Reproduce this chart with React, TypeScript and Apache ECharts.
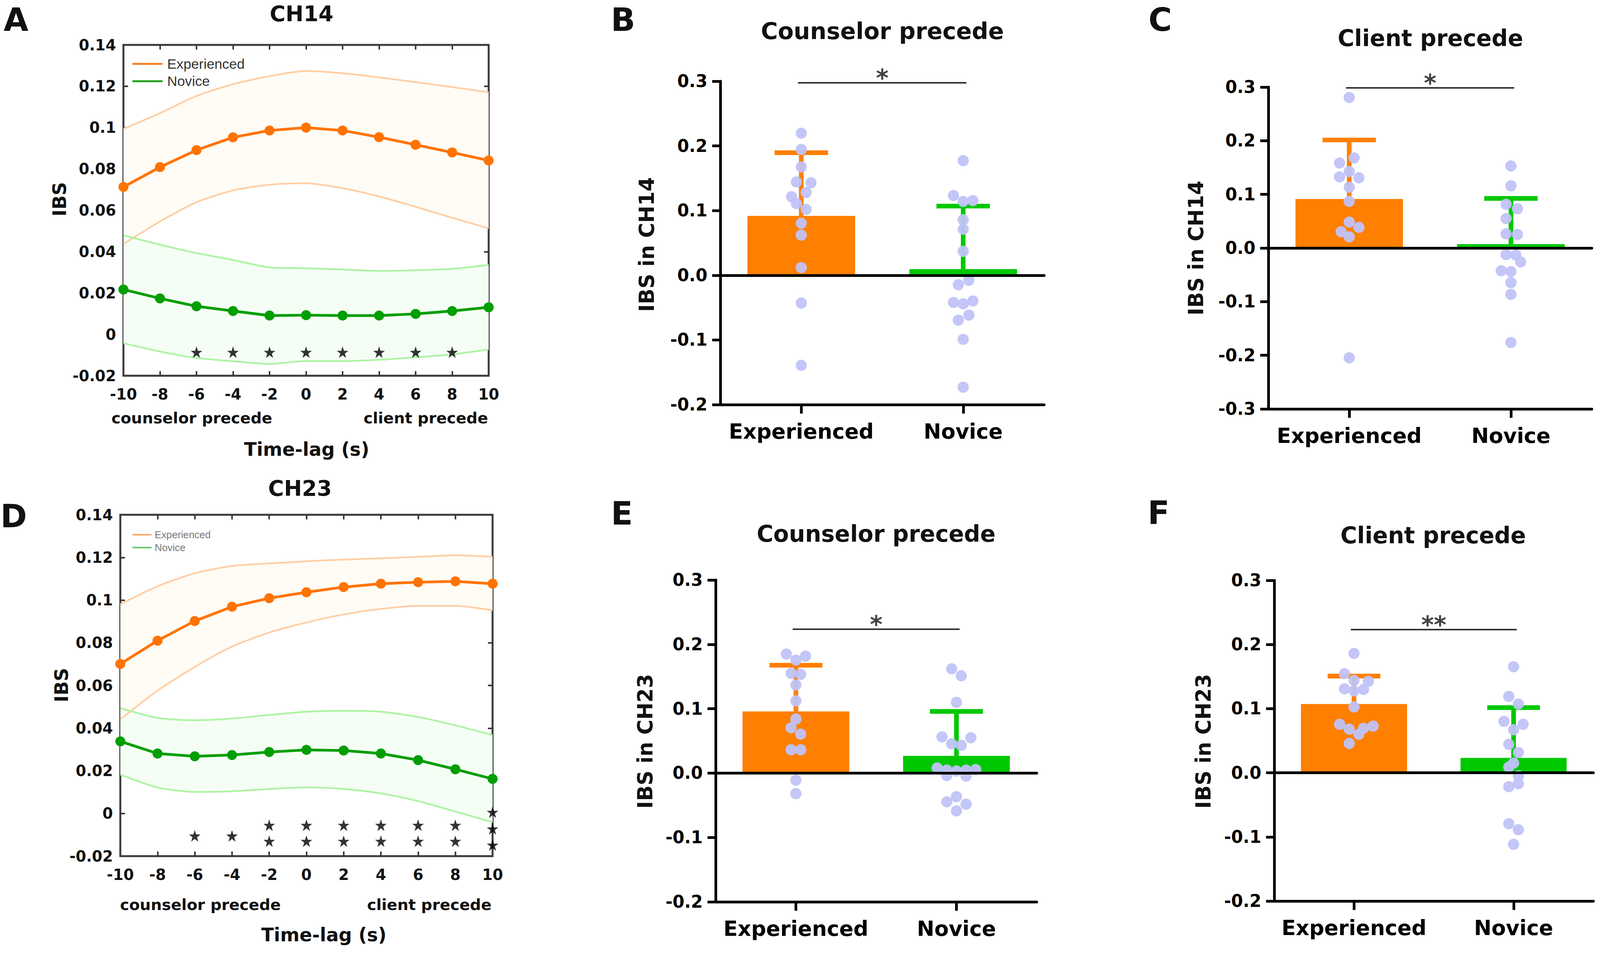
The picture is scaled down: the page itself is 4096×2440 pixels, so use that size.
import React, { useEffect, useRef } from 'react';
import * as echarts from 'echarts';

const S = 0.991;
const FONT = '"DejaVu Sans", sans-serif';

// ---------- Line panels (A: CH14, D: CH23) ----------
const LAGS = [-10, -8, -6, -4, -2, 0, 2, 4, 6, 8, 10];

const A_EXP_MEAN = [0.0713, 0.0809, 0.0891, 0.0953, 0.0986, 0.1, 0.0986, 0.0954, 0.0917, 0.088, 0.0841];
const A_EXP_HI = [0.0994, 0.107, 0.1153, 0.121, 0.1249, 0.1274, 0.1263, 0.1243, 0.122, 0.1196, 0.1171];
const A_EXP_LO = [0.0437, 0.0546, 0.0639, 0.0696, 0.0724, 0.0731, 0.0707, 0.0667, 0.0617, 0.0564, 0.0513];
const A_NOV_MEAN = [0.0217, 0.0174, 0.0136, 0.0113, 0.0091, 0.0093, 0.0091, 0.0091, 0.0099, 0.0113, 0.0131];
const A_NOV_HI = [0.0479, 0.0434, 0.0393, 0.036, 0.0324, 0.032, 0.0314, 0.0307, 0.031, 0.0317, 0.0336];
const A_NOV_LO = [-0.0043, -0.0083, -0.0114, -0.013, -0.0143, -0.0129, -0.0129, -0.0123, -0.0111, -0.0097, -0.0073];
const A_STARS = [[-6, -0.0086], [-4, -0.0086], [-2, -0.0086], [0, -0.0086], [2, -0.0086], [4, -0.0086], [6, -0.0086], [8, -0.0086]];

const D_EXP_MEAN = [0.0701, 0.081, 0.0902, 0.0969, 0.1009, 0.1037, 0.1061, 0.1077, 0.1084, 0.1088, 0.1077];
const D_EXP_HI = [0.098, 0.1065, 0.1126, 0.116, 0.1172, 0.1182, 0.119, 0.1196, 0.1203, 0.121, 0.1203];
const D_EXP_LO = [0.0441, 0.0576, 0.0687, 0.0782, 0.0848, 0.0895, 0.0933, 0.0959, 0.0973, 0.0973, 0.0952];
const D_NOV_MEAN = [0.0338, 0.0281, 0.0268, 0.0274, 0.0288, 0.0298, 0.0295, 0.0281, 0.025, 0.0207, 0.0162];
const D_NOV_HI = [0.0494, 0.0448, 0.0437, 0.0445, 0.0462, 0.0477, 0.0481, 0.0477, 0.0452, 0.0413, 0.0367];
const D_NOV_LO = [0.0182, 0.0122, 0.0101, 0.0104, 0.0115, 0.0122, 0.0115, 0.0094, 0.0058, 0.0009, -0.0041];
const D_STARS = [
  [-6, -0.0105], [-4, -0.0105],
  [-2, -0.0055], [-2, -0.013], [0, -0.0055], [0, -0.013], [2, -0.0055], [2, -0.013],
  [4, -0.0055], [4, -0.013], [6, -0.0055], [6, -0.013], [8, -0.0055], [8, -0.013],
  [10, 0.0006], [10, -0.0072], [10, -0.0148],
];

// ---------- Bar panels ----------
const GROUPS = ['Experienced', 'Novice'];

const B_MEANS = [0.0918, 0.0096];
const B_ERR_TOP = [0.1895, 0.107];
const B_EXP = [0.2196, 0.1945, 0.1676, 0.1443, 0.143, 0.128, 0.1215, 0.111, 0.102, 0.0804, 0.0621, 0.0119, -0.0429, -0.1393];
const B_EXP_JIT = [0, 0, 0, -0.03, 0.06, 0.03, -0.06, -0.03, 0.03, 0, 0, 0, 0, 0];
const B_NOV = [0.1772, 0.1233, 0.1142, 0.1155, 0.0858, 0.0712, 0.037, -0.0078, -0.0146, -0.042, -0.0443, -0.0397, -0.0616, -0.0694, -0.0991, -0.173];
const B_NOV_JIT = [0, -0.06, 0, 0.06, 0, 0, 0, 0.035, -0.03, -0.06, 0, 0.06, 0.035, -0.03, 0, 0];

const C_MEANS = [0.0914, 0.0072];
const C_ERR_TOP = [0.2014, 0.0925];
const C_EXP = [0.2807, 0.1679, 0.1585, 0.1425, 0.1326, 0.131, 0.1134, 0.0869, 0.0484, 0.0385, 0.0303, 0.0209, -0.2047];
const C_EXP_JIT = [0, 0.03, -0.06, 0, -0.06, 0.06, 0, 0, 0, 0.06, -0.05, 0, 0];
const C_NOV = [0.153, 0.116, 0.0815, 0.0732, 0.055, 0.0264, 0.0253, -0.0121, -0.0132, -0.0259, -0.0424, -0.044, -0.0644, -0.0864, -0.1761];
const C_NOV_JIT = [0, 0, -0.03, 0.04, -0.03, -0.03, 0.04, -0.03, 0.03, 0.06, -0.06, 0, 0, 0, 0];

const E_MEANS = [0.0958, 0.0268];
const E_ERR_TOP = [0.1676, 0.0958];
const E_EXP = [0.185, 0.1817, 0.1756, 0.155, 0.1535, 0.137, 0.1122, 0.084, 0.0704, 0.0606, 0.0362, 0.0362, -0.0108, -0.0319];
const E_EXP_JIT = [-0.06, 0.06, 0, -0.03, 0.03, 0, 0, 0, -0.03, 0.03, -0.03, 0.03, 0, 0];
const E_NOV = [0.162, 0.1512, 0.1099, 0.0563, 0.0549, 0.0455, 0.0432, 0.008, 0.0047, 0.0033, 0.0047, 0.0056, -0.0038, -0.0047, -0.0366, -0.0446, -0.0484, -0.0587];
const E_NOV_JIT = [-0.03, 0.03, 0, -0.09, 0.09, -0.03, 0.03, -0.12, -0.06, 0, 0.06, 0.12, -0.06, 0.06, 0, -0.06, 0.06, 0];

const F_MEANS = [0.1073, 0.0232];
const F_ERR_TOP = [0.1508, 0.1016];
const F_EXP = [0.1862, 0.1545, 0.144, 0.1427, 0.131, 0.13, 0.1276, 0.1026, 0.0756, 0.0728, 0.068, 0.0695, 0.06, 0.0458];
const F_EXP_JIT = [0, -0.06, 0, 0.09, -0.06, 0.06, 0, 0, -0.09, 0.12, -0.03, 0.06, 0.03, -0.03];
const F_NOV = [0.1654, 0.1191, 0.1073, 0.0803, 0.0756, 0.0671, 0.0444, 0.0317, 0.0151, 0.009, -0.0047, -0.017, -0.0217, -0.0794, -0.0888, -0.1115];
const F_NOV_JIT = [0, -0.03, 0.03, -0.06, 0.06, 0, -0.03, 0.03, 0, -0.03, 0.03, 0.03, -0.03, -0.03, 0.03, 0];

const STAR_PATH =
  'path://M50,0 L61.8,35.1 L98.9,35.1 L69,56.9 L80.3,91.9 L50,70.2 L19.7,91.9 L31,56.9 L1.1,35.1 L38.2,35.1 Z';

const ORANGE_LINE = '#ff7300';
const GREEN_LINE = '#009e00';
const ORANGE_CI = '#ffcfa6';
const GREEN_CI = '#aef3a4';
const ORANGE_FILL = '#fffcf5';
const GREEN_FILL = '#f5fef5';
const BAR_COLORS = ['#ff7f00', '#00c800'];
const DOT_COLOR = '#c0c3f7';

function buildOption() {
  const grids: any[] = [];
  const xAxes: any[] = [];
  const yAxes: any[] = [];
  const series: any[] = [];
  const graphics: any[] = [];

  const tickStyle = { color: '#3a3a3a', width: 4 * S };
  const tickLabel = (size: number, margin: number) => ({
    show: true, margin, fontSize: size, fontWeight: 'bold', fontFamily: FONT, color: '#111',
  });

  function linePanel(rect: any, expMean: number[], expLo: number[], expHi: number[],
    novMean: number[], novLo: number[], novHi: number[], stars: number[][]) {
    const g = grids.length;
    grids.push({ ...rect, show: true, borderColor: '#3a3a3a', borderWidth: 5 * S, backgroundColor: 'transparent' });
    const xi = xAxes.length;
    xAxes.push({
      gridIndex: g, type: 'value', min: -10, max: 10, interval: 2, position: 'bottom',
      axisLine: { show: false, onZero: false },
      axisTick: { show: true, inside: true, length: 12 * S, lineStyle: tickStyle },
      axisLabel: tickLabel(38.6, 28), splitLine: { show: false },
    });
    xAxes.push({
      gridIndex: g, type: 'value', min: -10, max: 10, interval: 2, position: 'top',
      axisLine: { show: false, onZero: false },
      axisTick: { show: true, inside: true, length: 12 * S, lineStyle: tickStyle },
      axisLabel: { show: false }, splitLine: { show: false },
    });
    const yi = yAxes.length;
    yAxes.push({
      gridIndex: g, type: 'value', min: -0.02, max: 0.14, interval: 0.02, position: 'left',
      axisLine: { show: false, onZero: false },
      axisTick: { show: true, inside: true, length: 12 * S, lineStyle: tickStyle },
      axisLabel: tickLabel(38.6, 19), splitLine: { show: false },
    });
    yAxes.push({
      gridIndex: g, type: 'value', min: -0.02, max: 0.14, interval: 0.02, position: 'right',
      axisLine: { show: false, onZero: false },
      axisTick: { show: true, inside: true, length: 12 * S, lineStyle: tickStyle },
      axisLabel: { show: false }, splitLine: { show: false },
    });

    const band = (lo: number[], hi: number[], fill: string) => ({
      type: 'custom', xAxisIndex: xi, yAxisIndex: yi, silent: true, z: 1,
      data: LAGS.map((x, i) => [x, lo[i], hi[i]]),
      encode: { x: 0, y: [1, 2] },
      renderItem: (params: any, api: any) => {
        if (params.dataIndex !== 0) return null;
        const top = LAGS.map((x, i) => api.coord([x, hi[i]]));
        const bot = LAGS.map((x, i) => api.coord([x, lo[i]])).reverse();
        return { type: 'polygon', shape: { points: top.concat(bot) }, style: { fill, stroke: 'none' } };
      },
    });
    series.push(band(expLo, expHi, ORANGE_FILL));
    series.push(band(novLo, novHi, GREEN_FILL));

    const ciLine = (vals: number[], color: string) => ({
      type: 'line', xAxisIndex: xi, yAxisIndex: yi, silent: true, z: 2, smooth: 0.25,
      symbol: 'none', data: LAGS.map((x, i) => [x, vals[i]]),
      lineStyle: { color, width: 4.5 * S },
    });
    series.push(ciLine(expLo, ORANGE_CI), ciLine(expHi, ORANGE_CI), ciLine(novLo, GREEN_CI), ciLine(novHi, GREEN_CI));

    const meanLine = (vals: number[], color: string) => ({
      type: 'line', xAxisIndex: xi, yAxisIndex: yi, silent: true, z: 3, clip: false,
      symbol: 'circle', symbolSize: 26 * S, data: LAGS.map((x, i) => [x, vals[i]]),
      lineStyle: { color, width: 7 * S }, itemStyle: { color },
    });
    series.push(meanLine(expMean, ORANGE_LINE), meanLine(novMean, GREEN_LINE));

    series.push({
      type: 'scatter', xAxisIndex: xi, yAxisIndex: yi, silent: true, z: 4, clip: false,
      symbol: STAR_PATH, symbolSize: 30 * S, data: stars, itemStyle: { color: '#000' },
    });
  }

  function barPanel(rect: any, yMin: number, means: number[], errTop: number[],
    exp: number[], expJit: number[], nov: number[], novJit: number[], sigY: number, sigText: string) {
    const g = grids.length;
    grids.push({ ...rect, show: false });
    const xc = xAxes.length;
    xAxes.push({
      gridIndex: g, type: 'category', data: GROUPS, position: 'bottom', z: 5,
      axisLine: { show: true, onZero: false, lineStyle: { color: '#000', width: 7 * S } },
      axisTick: { show: true, alignWithLabel: true, interval: 0, length: 23 * S, lineStyle: { color: '#000', width: 7 * S } },
      axisLabel: { ...tickLabel(53.5, 41), interval: 0, color: '#000' },
      splitLine: { show: false },
    });
    const xv = xAxes.length;
    xAxes.push({
      gridIndex: g, type: 'value', min: -0.5, max: 1.5, position: 'bottom', z: 5,
      axisLine: { show: true, onZero: true, lineStyle: { color: '#000', width: 7 * S } },
      axisTick: { show: false }, axisLabel: { show: false }, splitLine: { show: false },
    });
    const yi = yAxes.length;
    yAxes.push({
      gridIndex: g, type: 'value', min: yMin, max: 0.3, interval: 0.1, position: 'left', z: 5,
      axisLine: { show: true, onZero: false, lineStyle: { color: '#000', width: 7 * S } },
      axisTick: { show: true, length: 21 * S, lineStyle: { color: '#000', width: 7 * S } },
      axisLabel: {
        ...tickLabel(43.6, 33), color: '#000',
        formatter: (v: number) => (Math.abs(v) < 1e-9 ? '0.0' : v.toFixed(1)),
      },
      splitLine: { show: false },
    });

    series.push({
      type: 'bar', xAxisIndex: xc, yAxisIndex: yi, silent: true, z: 2, barWidth: '66.5%',
      data: means.map((v, i) => ({ value: v, itemStyle: { color: BAR_COLORS[i] } })),
    });
    series.push({
      type: 'custom', xAxisIndex: xv, yAxisIndex: yi, silent: true, z: 3,
      data: means.map((m, i) => [i, m, errTop[i]]),
      encode: { x: 0, y: [1, 2] },
      renderItem: (params: any, api: any) => {
        const x = api.value(0);
        const base = api.coord([x, api.value(1)]);
        const top = api.coord([x, api.value(2)]);
        const half = api.size([0.165, 0])[0];
        const color = BAR_COLORS[params.dataIndex];
        const lw = 12 * S;
        return {
          type: 'group',
          children: [
            { type: 'line', shape: { x1: base[0], y1: base[1], x2: top[0], y2: top[1] }, style: { stroke: color, lineWidth: lw } },
            { type: 'line', shape: { x1: top[0] - half, y1: top[1], x2: top[0] + half, y2: top[1] }, style: { stroke: color, lineWidth: lw } },
          ],
        };
      },
    });
    const dots = exp.map((v, i) => [0 + expJit[i], v]).concat(nov.map((v, i) => [1 + novJit[i], v]));
    series.push({
      type: 'scatter', xAxisIndex: xv, yAxisIndex: yi, silent: true, z: 4,
      symbol: 'circle', symbolSize: 29 * S, data: dots, itemStyle: { color: DOT_COLOR, opacity: 0.95 },
    });
    series.push({
      type: 'line', xAxisIndex: xv, yAxisIndex: yi, silent: true, z: 4, symbol: 'none',
      data: [[-0.02, sigY], [1.02, sigY]], lineStyle: { color: '#333', width: 4 * S },
    });
    series.push({
      type: 'scatter', xAxisIndex: xv, yAxisIndex: yi, silent: true, z: 6, symbolSize: 0,
      data: [[0.5, sigY]], itemStyle: { color: 'transparent' },
      label: {
        show: true, position: 'inside', offset: [0, -12], formatter: sigText,
        fontSize: 62 * S, fontWeight: 'bold', fontFamily: FONT, color: '#111',
      },
    });
  }

  linePanel({ left: 316, top: 115, width: 935, height: 847 }, A_EXP_MEAN, A_EXP_LO, A_EXP_HI, A_NOV_MEAN, A_NOV_LO, A_NOV_HI, A_STARS);
  linePanel({ left: 308, top: 1318, width: 953, height: 874 }, D_EXP_MEAN, D_EXP_LO, D_EXP_HI, D_NOV_MEAN, D_NOV_LO, D_NOV_HI, D_STARS);
  barPanel({ left: 1844, top: 208, width: 829, height: 828 }, -0.2, B_MEANS, B_ERR_TOP, B_EXP, B_EXP_JIT, B_NOV, B_NOV_JIT, 0.2976, '*');
  barPanel({ left: 3247, top: 223, width: 828, height: 824 }, -0.3, C_MEANS, C_ERR_TOP, C_EXP, C_EXP_JIT, C_NOV, C_NOV_JIT, 0.2986, '*');
  barPanel({ left: 1832, top: 1485, width: 822, height: 824 }, -0.2, E_MEANS, E_ERR_TOP, E_EXP, E_EXP_JIT, E_NOV, E_NOV_JIT, 0.2236, '*');
  barPanel({ left: 3262, top: 1486, width: 817, height: 821 }, -0.2, F_MEANS, F_ERR_TOP, F_EXP, F_EXP_JIT, F_NOV, F_NOV_JIT, 0.2233, '**');

  const txt = (text: string, x: number, y: number, size: number, opts: any = {}) => ({
    type: 'text', x, y, rotation: opts.rotation || 0, silent: true, z: 10,
    style: {
      text, fontSize: size, fontWeight: opts.weight || 'bold', fontFamily: opts.family || FONT,
      fill: opts.color || '#111', align: opts.align || 'center', verticalAlign: 'middle',
      lineHeight: opts.lineHeight || undefined,
    },
  });
  // Panel letters
  const L = { lineHeight: 80 };
  graphics.push(txt('A', 41, 50, 82, L), txt('B', 1595, 50, 82, L), txt('C', 2970, 50, 82, L));
  graphics.push(txt('D', 35, 1321, 82, L), txt('E', 1592, 1314, 82, L), txt('F', 2966, 1312, 82, L));
  // Titles
  graphics.push(txt('CH14', 772, 35, 55), txt('CH23', 768, 1250, 55));
  graphics.push(txt('Counselor precede', 2259, 79, 59), txt('Client precede', 3662, 98, 58));
  graphics.push(txt('Counselor precede', 2243, 1367, 58), txt('Client precede', 3669, 1371, 58));
  // Line panel axis names
  const R = Math.PI / 2;
  graphics.push(txt('IBS', 152, 510, 47.5, { rotation: R }), txt('IBS', 157, 1754, 47.5, { rotation: R }));
  graphics.push(txt('counselor precede', 491, 1070, 39.6), txt('client precede', 1090, 1070, 39.6));
  graphics.push(txt('counselor precede', 513, 2316, 39.6), txt('client precede', 1099, 2316, 39.6));
  graphics.push(txt('Time-lag (s)', 785, 1150, 47.5), txt('Time-lag (s)', 829, 2393, 47.5));
  // Bar panel y names
  graphics.push(txt('IBS in CH14', 1655, 626, 52.5, { rotation: R }), txt('IBS in CH14', 3061, 635, 52.5, { rotation: R }));
  graphics.push(txt('IBS in CH23', 1651, 1898, 52.5, { rotation: R }), txt('IBS in CH23', 3080, 1898, 52.5, { rotation: R }));
  // Legends
  const legLine = (x1: number, x2: number, y: number, color: string, w: number) => ({
    type: 'line', silent: true, z: 10, shape: { x1, y1: y, x2, y2: y }, style: { stroke: color, lineWidth: w },
  });
  const LEG_FONT = '"Liberation Sans", Arial, sans-serif';
  graphics.push(legLine(339, 416, 163.5, '#ff7f1e', 5 * S), legLine(339, 416, 208, '#1ea01e', 5 * S));
  graphics.push(txt('Experienced', 428, 163.5, 35.7, { weight: 'normal', family: LEG_FONT, color: '#333', align: 'left' }));
  graphics.push(txt('Novice', 428, 208, 35.7, { weight: 'normal', family: LEG_FONT, color: '#333', align: 'left' }));
  graphics.push(legLine(339, 388, 1369, '#ffa868', 4 * S), legLine(339, 388, 1402, '#66cc66', 4 * S));
  graphics.push(txt('Experienced', 396, 1369, 25.8, { weight: 'normal', family: LEG_FONT, color: '#777', align: 'left' }));
  graphics.push(txt('Novice', 396, 1402, 25.8, { weight: 'normal', family: LEG_FONT, color: '#777', align: 'left' }));

  return {
    animation: false,
    backgroundColor: '#ffffff',
    grid: grids,
    xAxis: xAxes,
    yAxis: yAxes,
    series,
    graphic: graphics,
  };
}

export default function App() {
  const ref = useRef<HTMLDivElement>(null);
  useEffect(() => {
    document.body.style.margin = '0';
    const chart = echarts.init(ref.current as HTMLDivElement, null, { renderer: 'svg', width: 4096, height: 2440 });
    chart.setOption(buildOption() as any);
    return () => chart.dispose();
  }, []);
  return <div ref={ref} style={{ width: 4096, height: 2440, background: '#fff' }} />;
}
